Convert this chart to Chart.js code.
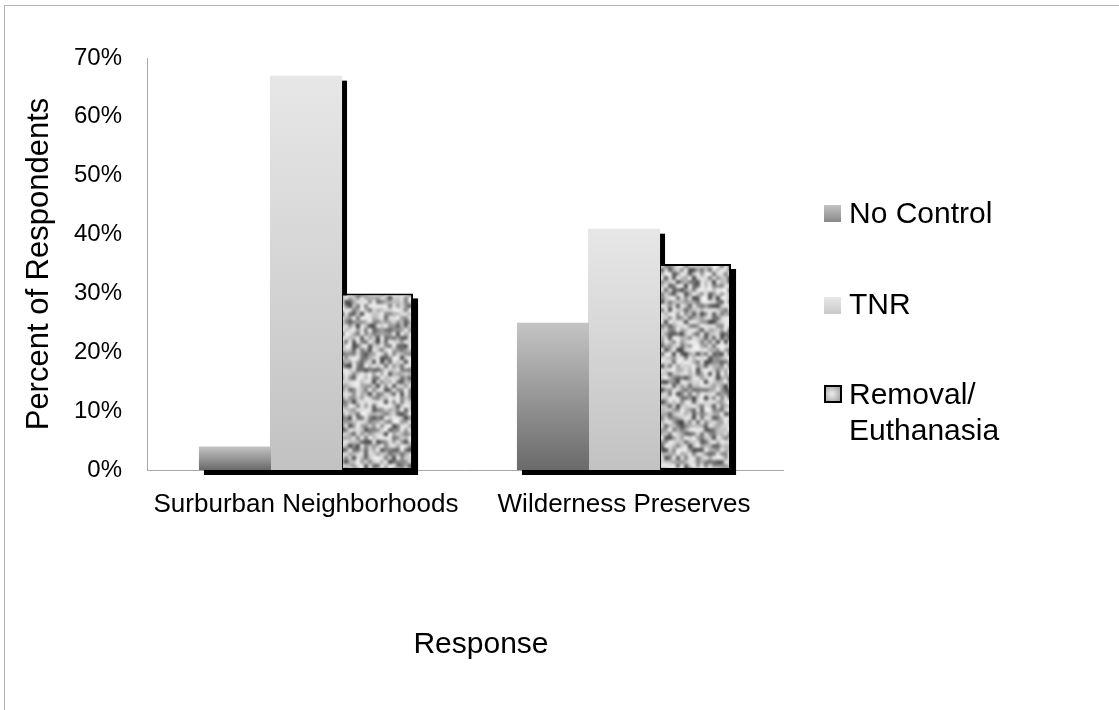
<!DOCTYPE html>
<html>
<head>
<meta charset="utf-8">
<script src="https://cdn.jsdelivr.net/npm/chart.js@4.4.1/dist/chart.umd.min.js"></script>
<style>
  html, body { margin: 0; padding: 0; background: #fff; }
  #frame { position: absolute; left: 4px; top: 5px; width: 1115px; height: 705px;
           border-top: 1px solid #b4b4b4; border-left: 1px solid #b4b4b4; }
  #wrap { position: absolute; left: 0; top: 0; width: 1119px; height: 710px; }
</style>
</head>
<body>
<div id="frame"></div>
<div id="wrap"><canvas id="chart"></canvas></div>
<script>
const categories = ['Surburban Neighborhoods', 'Wilderness Preserves'];
const seriesNames = ['No Control', 'TNR', ['Removal/', 'Euthanasia']];
const noControl = [4, 25];
const tnr = [67, 41];
const removal = [30, 35];

const FONT = '"Liberation Sans", Arial, sans-serif';

// mottled grey texture for the removal bars (seeded so it is the same every run)
function makeTexture() {
  let seed = 12345;
  const rnd = () => {
    seed |= 0; seed = seed + 0x6D2B79F5 | 0;
    let t = Math.imul(seed ^ seed >>> 15, 1 | seed);
    t = t + Math.imul(t ^ t >>> 7, 61 | t) ^ t;
    return ((t ^ t >>> 14) >>> 0) / 4294967296;
  };
  const W = 220, H = 140, K = 4;
  const small = document.createElement('canvas');
  small.width = W; small.height = H;
  const sc = small.getContext('2d');
  const img = sc.createImageData(W, H);
  for (let k = 0; k < W * H; k++) {
    const v = Math.round(236 - 165 * Math.pow(rnd(), 1.7));
    img.data[k * 4] = v; img.data[k * 4 + 1] = v; img.data[k * 4 + 2] = v; img.data[k * 4 + 3] = 255;
  }
  sc.putImageData(img, 0, 0);
  const big = document.createElement('canvas');
  big.width = W * K; big.height = H * K;
  const bc = big.getContext('2d');
  bc.imageSmoothingEnabled = true;
  bc.imageSmoothingQuality = 'high';
  bc.drawImage(small, 0, 0, W * K, H * K);
  return big;
}
const texture = makeTexture();

function barGradient(c, topCol, botCol) {
  const chart = c.chart;
  if (!chart.chartArea || c.raw == null) return botCol;
  const y = chart.scales.y;
  const g = chart.ctx.createLinearGradient(0, y.getPixelForValue(c.raw), 0, y.getPixelForValue(0));
  g.addColorStop(0, topCol);
  g.addColorStop(1, botCol);
  return g;
}

// black drop shadow behind every bar
const shadowPlugin = {
  id: 'barShadow',
  beforeDatasetsDraw(chart) {
    const ctx = chart.ctx;
    ctx.save();
    ctx.fillStyle = '#000';
    chart.data.datasets.forEach((ds, i) => {
      chart.getDatasetMeta(i).data.forEach(bar => {
        const p = bar.getProps(['x', 'y', 'base', 'width'], true);
        ctx.fillRect(p.x - p.width / 2 + 5, p.y + 5, p.width, p.base - p.y);
      });
    });
    ctx.restore();
  }
};

// legend on the right and x axis title
const legendPlugin = {
  id: 'sideLegend',
  afterDraw(chart) {
    const ctx = chart.ctx;
    ctx.save();
    ctx.font = '30px ' + FONT;
    ctx.fillStyle = '#000';
    ctx.textBaseline = 'middle';
    ctx.textAlign = 'left';
    const sx = 824, tx = 849, s = 17;
    const rows = [214, 306, 396];

    let g = ctx.createLinearGradient(0, rows[0] - 8, 0, rows[0] + 9);
    g.addColorStop(0, '#c0c0c0'); g.addColorStop(1, '#848484');
    ctx.fillStyle = g;
    ctx.fillRect(sx, rows[0] - 9, s, s);

    g = ctx.createLinearGradient(0, rows[1] - 8, 0, rows[1] + 9);
    g.addColorStop(0, '#e6e6e6'); g.addColorStop(1, '#c8c8c8');
    ctx.fillStyle = g;
    ctx.fillRect(sx, rows[1] - 9, s, s);

    g = ctx.createRadialGradient(sx + 8, rows[2] - 2, 1, sx + 8, rows[2] - 2, 11);
    g.addColorStop(0, '#e6e6e6'); g.addColorStop(1, '#9a9a9a');
    ctx.fillStyle = '#000';
    ctx.fillRect(sx, rows[2] - 11, s + 1, s + 1);
    ctx.fillStyle = g;
    ctx.fillRect(sx + 2, rows[2] - 9, s - 3, s - 3);

    ctx.fillStyle = '#000';
    ctx.fillText(seriesNames[0], tx, rows[0] + 1);
    ctx.fillText(seriesNames[1], tx, rows[1]);
    ctx.fillText(seriesNames[2][0], tx, rows[2]);
    ctx.fillText(seriesNames[2][1], tx, rows[2] + 36);

    ctx.textAlign = 'center';
    ctx.fillText('Response', 481, 645);
    ctx.restore();
  }
};

new Chart(document.getElementById('chart'), {
  type: 'bar',
  data: {
    labels: categories,
    datasets: [
      {
        label: 'No Control',
        data: noControl,
        backgroundColor: c => barGradient(c, '#c4c4c4', '#6a6a6a'),
        borderWidth: 0
      },
      {
        label: 'TNR',
        data: tnr,
        backgroundColor: c => barGradient(c, '#e7e7e7', '#c2c2c2'),
        borderWidth: 0
      },
      {
        label: 'Removal/Euthanasia',
        data: removal,
        backgroundColor: c => c.chart.ctx.createPattern(texture, 'repeat'),
        borderColor: '#000',
        borderWidth: 2,
        borderSkipped: false
      }
    ]
  },
  options: {
    responsive: true,
    maintainAspectRatio: false,
    animation: false,
    layout: { padding: { left: 0, top: 58, right: 336, bottom: 0 } },
    datasets: { bar: { categoryPercentage: 0.67, barPercentage: 1.015 } },
    plugins: {
      legend: { display: false },
      tooltip: { enabled: false }
    },
    scales: {
      x: {
        grid: { display: false, drawTicks: false },
        border: { color: '#a8a8a8', width: 1 },
        ticks: { color: '#000', font: { family: FONT, size: 26 }, padding: 19, maxRotation: 0 },
        afterFit: s => { s.height = 240; }
      },
      y: {
        min: 0,
        max: 70,
        grid: { display: false, drawTicks: false },
        border: { color: '#a8a8a8', width: 1 },
        ticks: {
          stepSize: 10,
          color: '#000',
          font: { family: FONT, size: 24 },
          padding: 25,
          callback: v => v + '%'
        },
        title: {
          display: true,
          text: 'Percent of Respondents',
          color: '#000',
          font: { family: FONT, size: 31 },
          padding: { top: 21, bottom: 0 }
        },
        afterFit: s => { s.width = 147; }
      }
    }
  },
  plugins: [shadowPlugin, legendPlugin]
});
</script>
</body>
</html>
